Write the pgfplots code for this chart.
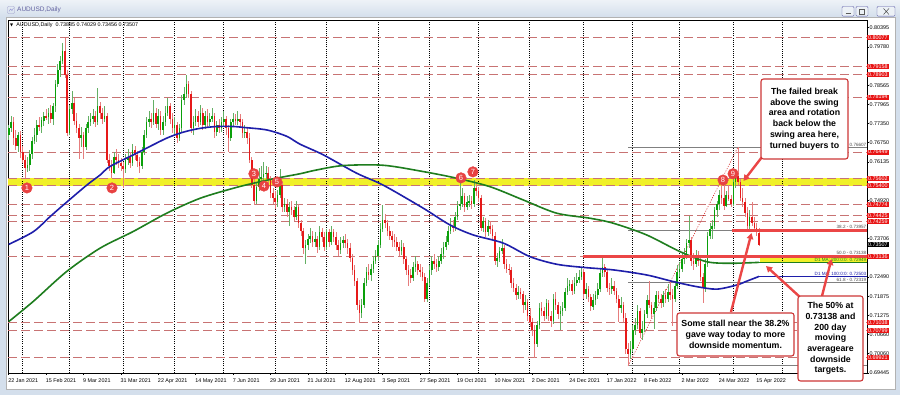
\documentclass[border=0pt]{standalone}
\usepackage{pgfplots}
\pgfplotsset{compat=1.18}
\usepackage{pgfplotstable}
\usepackage{fontspec}
\setmainfont{Liberation Sans}
\newfontfamily\dejavu{DejaVu Sans}
\usetikzlibrary{arrows.meta}
\pgfdeclarelayer{background}
\pgfsetlayers{background,main}
\definecolor{upc}{RGB}{10,160,10}
\definecolor{dnc}{RGB}{230,25,25}
\definecolor{upw}{RGB}{100,175,100}
\definecolor{dnw}{RGB}{230,125,125}
\definecolor{lvl}{RGB}{200,115,115}
\definecolor{band}{RGB}{240,240,40}
\definecolor{maone}{RGB}{30,30,170}
\definecolor{matwo}{RGB}{30,125,30}
\definecolor{lab}{RGB}{232,20,20}
\definecolor{boxc}{RGB}{205,55,55}
\definecolor{arr}{RGB}{235,70,70}
\definecolor{frm}{RGB}{212,223,236}
\definecolor{mk}{RGB}{232,66,66}
\definecolor{fib}{RGB}{128,128,128}

\pgfplotstableread{
i o h l c
0 0.7700 0.7732 0.7682 0.7720
1 0.7720 0.7760 0.7710 0.7740
2 0.7740 0.7755 0.7668 0.7690
3 0.7690 0.7715 0.7653 0.7665
4 0.7665 0.7710 0.7645 0.7700
5 0.7700 0.7712 0.7627 0.7645
6 0.7645 0.7665 0.7610 0.7620
7 0.7620 0.7635 0.7563 0.7595
8 0.7595 0.7630 0.7583 0.7605
9 0.7605 0.7650 0.7585 0.7640
10 0.7640 0.7692 0.7622 0.7680
11 0.7680 0.7720 0.7670 0.7700
12 0.7700 0.7745 0.7678 0.7730
13 0.7730 0.7755 0.7713 0.7725
14 0.7725 0.7755 0.7705 0.7745
15 0.7745 0.7772 0.7727 0.7760
16 0.7760 0.7780 0.7745 0.7755
17 0.7755 0.7785 0.7733 0.7770
18 0.7770 0.7795 0.7738 0.7750
19 0.7750 0.7800 0.7730 0.7790
20 0.7790 0.7872 0.7772 0.7860
21 0.7860 0.7925 0.7850 0.7905
22 0.7905 0.7950 0.7883 0.7935
23 0.7935 0.7990 0.7923 0.7965
24 0.7965 0.80077 0.7880 0.7890
25 0.7890 0.7905 0.7695 0.7705
26 0.7705 0.7795 0.7700 0.7780
27 0.7780 0.7838 0.7765 0.7800
28 0.7800 0.7815 0.7730 0.7745
29 0.7745 0.7770 0.7705 0.7720
30 0.7720 0.7735 0.7622 0.7690
31 0.7690 0.7725 0.7660 0.7700
32 0.7700 0.7710 0.7622 0.7660
33 0.7660 0.7735 0.7650 0.7720
34 0.7720 0.7760 0.7705 0.7740
35 0.7740 0.7770 0.7728 0.7750
36 0.7750 0.7780 0.7735 0.7760
37 0.7760 0.7775 0.7725 0.7740
38 0.7740 0.7849 0.7730 0.7790
39 0.7790 0.7805 0.7750 0.7770
40 0.7770 0.7785 0.7735 0.7750
41 0.7750 0.7790 0.7740 0.7760
42 0.7760 0.7770 0.7610 0.7620
43 0.7620 0.7640 0.7585 0.7600
44 0.7600 0.7620 0.7563 0.7580
45 0.7580 0.7645 0.7575 0.7630
46 0.7630 0.7655 0.7605 0.7620
47 0.7620 0.7640 0.7595 0.7610
48 0.7610 0.7625 0.7585 0.7600
49 0.7600 0.7615 0.7532 0.7590
50 0.7590 0.7640 0.7578 0.7620
51 0.7620 0.7655 0.7605 0.7630
52 0.7630 0.7645 0.7595 0.7610
53 0.7610 0.7670 0.7600 0.7650
54 0.7650 0.7665 0.7620 0.7635
55 0.7635 0.7648 0.7598 0.7615
56 0.7615 0.7630 0.7580 0.7600
57 0.7600 0.7660 0.7590 0.7645
58 0.7645 0.7715 0.7635 0.7700
59 0.7700 0.7755 0.7690 0.7740
60 0.7740 0.7775 0.7725 0.7750
61 0.7750 0.7770 0.7720 0.7740
62 0.7740 0.7810 0.7730 0.7770
63 0.7770 0.7785 0.7720 0.7735
64 0.7735 0.7780 0.7715 0.7760
65 0.7760 0.7775 0.7700 0.7715
66 0.7715 0.7760 0.7700 0.7740
67 0.7740 0.7790 0.7728 0.7770
68 0.7770 0.7815 0.7758 0.7790
69 0.7790 0.7800 0.7735 0.7750
70 0.7750 0.7770 0.7705 0.7720
71 0.7720 0.7755 0.7700 0.7730
72 0.7730 0.7740 0.7675 0.7690
73 0.7690 0.7735 0.7680 0.7720
74 0.7720 0.7825 0.7710 0.7810
75 0.7810 0.7850 0.7795 0.7830
76 0.7830 0.78903 0.7815 0.7860
77 0.7860 0.7870 0.7815 0.7830
78 0.7830 0.7840 0.7705 0.7720
79 0.7720 0.7760 0.7700 0.7740
80 0.7740 0.7780 0.7728 0.7760
81 0.7760 0.7775 0.7725 0.7740
82 0.7740 0.7795 0.7730 0.7770
83 0.7770 0.7785 0.7715 0.7730
84 0.7730 0.7775 0.7718 0.7760
85 0.7760 0.7780 0.7725 0.7740
86 0.7740 0.7770 0.7728 0.7750
87 0.7750 0.7785 0.7740 0.7760
88 0.7760 0.7770 0.7690 0.7710
89 0.7710 0.7745 0.7695 0.7730
90 0.7730 0.7750 0.7705 0.7720
91 0.7720 0.7755 0.7708 0.7740
92 0.7740 0.7775 0.7725 0.7750
93 0.7750 0.7760 0.7700 0.7720
94 0.7720 0.7730 0.7646 0.7690
95 0.7690 0.7750 0.7680 0.7740
96 0.7740 0.7770 0.7725 0.7750
97 0.7750 0.7765 0.7730 0.7745
98 0.7745 0.7775 0.7732 0.7750
99 0.7750 0.7765 0.7720 0.7740
100 0.7740 0.7750 0.7690 0.7705
101 0.7705 0.7730 0.7690 0.7710
102 0.7710 0.7725 0.7670 0.7690
103 0.7690 0.7705 0.7610 0.7620
104 0.7620 0.7630 0.7530 0.7540
105 0.7540 0.7560 0.7477 0.7490
106 0.7490 0.7550 0.7480 0.7535
107 0.7535 0.7595 0.7520 0.7560
108 0.7560 0.7600 0.7545 0.7565
109 0.7565 0.7615 0.7550 0.7575
110 0.7575 0.7600 0.7560 0.7580
111 0.7580 0.7598 0.7545 0.7560
112 0.7560 0.7570 0.7500 0.7515
113 0.7515 0.7530 0.7480 0.7500
114 0.7500 0.7520 0.7465 0.7485
115 0.7485 0.7525 0.7470 0.7510
116 0.7510 0.7590 0.7500 0.7540
117 0.7540 0.7550 0.7455 0.7470
118 0.7470 0.7500 0.7455 0.7480
119 0.7480 0.7495 0.7440 0.7455
120 0.7455 0.7485 0.7410 0.7470
121 0.7470 0.7490 0.7445 0.7460
122 0.7460 0.7475 0.7425 0.7440
123 0.7440 0.7490 0.7430 0.7470
124 0.7470 0.7480 0.7405 0.7420
125 0.7420 0.7430 0.7380 0.7395
126 0.7395 0.7405 0.7320 0.7340
127 0.7340 0.7365 0.7290 0.7350
128 0.7350 0.7385 0.7335 0.7370
129 0.7370 0.7405 0.7355 0.7380
130 0.7380 0.7395 0.7345 0.7360
131 0.7360 0.7390 0.7345 0.7370
132 0.7370 0.7380 0.7325 0.7345
133 0.7345 0.7410 0.7335 0.7390
134 0.7390 0.7405 0.7360 0.7375
135 0.7375 0.7390 0.7330 0.7345
136 0.7345 0.7400 0.7335 0.7390
137 0.7390 0.7400 0.7345 0.7360
138 0.7360 0.7410 0.7350 0.7390
139 0.7390 0.7400 0.7360 0.7375
140 0.7375 0.7390 0.7335 0.7350
141 0.7350 0.7365 0.7315 0.7335
142 0.7335 0.7375 0.7320 0.7355
143 0.7355 0.7380 0.7340 0.7365
144 0.7365 0.7385 0.7340 0.7355
145 0.7355 0.7368 0.7320 0.7340
146 0.7340 0.7355 0.7295 0.7310
147 0.7310 0.7320 0.7255 0.7270
148 0.7270 0.7285 0.7220 0.7235
149 0.7235 0.7245 0.7145 0.7160
150 0.7160 0.7175 0.7104 0.7135
151 0.7135 0.7180 0.7120 0.7160
152 0.7160 0.7245 0.7150 0.7230
153 0.7230 0.7280 0.7220 0.7265
154 0.7265 0.7290 0.7240 0.7255
155 0.7255 0.7290 0.7235 0.7275
156 0.7275 0.7315 0.7260 0.7300
157 0.7300 0.7335 0.7290 0.7315
158 0.7315 0.7365 0.7300 0.7350
159 0.7350 0.7420 0.7340 0.7400
160 0.7400 0.74774 0.7390 0.7430
161 0.7430 0.7450 0.7405 0.7420
162 0.7420 0.7430 0.7380 0.7395
163 0.7395 0.7410 0.7365 0.7380
164 0.7380 0.7395 0.7345 0.7365
165 0.7365 0.7385 0.7345 0.7360
166 0.7360 0.7375 0.7330 0.7345
167 0.7345 0.7360 0.7315 0.7330
168 0.7330 0.7365 0.7318 0.7345
169 0.7345 0.7355 0.7290 0.7305
170 0.7305 0.7315 0.7255 0.7270
171 0.7270 0.7285 0.7220 0.7255
172 0.7255 0.7275 0.7230 0.7245
173 0.7245 0.7295 0.7235 0.7280
174 0.7280 0.7315 0.7265 0.7290
175 0.7290 0.7300 0.7255 0.7270
176 0.7270 0.7290 0.7250 0.7265
177 0.7265 0.7280 0.7235 0.7250
178 0.7250 0.7260 0.7170 0.7180
179 0.7180 0.7245 0.7170 0.7230
180 0.7230 0.7285 0.7220 0.7270
181 0.7270 0.7315 0.7255 0.7300
182 0.7300 0.7320 0.7275 0.7290
183 0.7290 0.7305 0.7265 0.7280
184 0.7280 0.7315 0.7268 0.7300
185 0.7300 0.7340 0.7290 0.7320
186 0.7320 0.7360 0.7305 0.7345
187 0.7345 0.7380 0.7335 0.7360
188 0.7360 0.7410 0.7350 0.7395
189 0.7395 0.7435 0.7385 0.7410
190 0.7410 0.7430 0.7390 0.7405
191 0.7405 0.7455 0.7395 0.7440
192 0.7440 0.7490 0.7430 0.7475
193 0.7475 0.7546 0.7460 0.7480
194 0.7480 0.7530 0.7470 0.7505
195 0.7505 0.7515 0.7455 0.7470
196 0.7470 0.7505 0.7460 0.7485
197 0.7485 0.7510 0.7470 0.7490
198 0.7490 0.7505 0.7465 0.7480
199 0.7480 0.7556 0.7470 0.7530
200 0.7530 0.7545 0.7505 0.7520
201 0.7520 0.7535 0.7485 0.7500
202 0.7500 0.7510 0.7395 0.7405
203 0.7405 0.7440 0.7390 0.7425
204 0.7425 0.7435 0.7375 0.7390
205 0.7390 0.7430 0.7380 0.7410
206 0.7410 0.7425 0.7385 0.7400
207 0.7400 0.7415 0.7365 0.7380
208 0.7380 0.7390 0.7285 0.7300
209 0.7300 0.7325 0.7280 0.7310
210 0.7310 0.7345 0.7295 0.7330
211 0.7330 0.7370 0.7320 0.7340
212 0.7340 0.7350 0.7275 0.7290
213 0.7290 0.7305 0.7260 0.7275
214 0.7275 0.7290 0.7255 0.7270
215 0.7270 0.7280 0.7215 0.7230
216 0.7230 0.7245 0.7200 0.7215
217 0.7215 0.7225 0.7175 0.7190
218 0.7190 0.7220 0.7180 0.7200
219 0.7200 0.7215 0.7180 0.7195
220 0.7195 0.7205 0.7135 0.7160
221 0.7160 0.7190 0.7145 0.7170
222 0.7170 0.7180 0.7110 0.7125
223 0.7125 0.7150 0.7090 0.7105
224 0.7105 0.7120 0.7060 0.7080
225 0.7080 0.7095 0.6992 0.7035
226 0.7035 0.7110 0.7025 0.7095
227 0.7095 0.7165 0.7085 0.7150
228 0.7150 0.7170 0.7125 0.7140
229 0.7140 0.7155 0.7110 0.7125
230 0.7125 0.7180 0.7115 0.7165
231 0.7165 0.7175 0.7110 0.7125
232 0.7125 0.7140 0.7090 0.7110
233 0.7110 0.7195 0.7100 0.7180
234 0.7180 0.7200 0.7145 0.7160
235 0.7160 0.7170 0.7115 0.7130
236 0.7130 0.7155 0.7080 0.7140
237 0.7140 0.7170 0.7125 0.7150
238 0.7150 0.7215 0.7140 0.7200
239 0.7200 0.7245 0.7190 0.7220
240 0.7220 0.7240 0.7205 0.7225
241 0.7225 0.7240 0.7190 0.7205
242 0.7205 0.7250 0.7195 0.7230
243 0.7230 0.7260 0.7220 0.7240
244 0.7240 0.7270 0.7230 0.7250
245 0.7250 0.7277 0.7240 0.7265
246 0.7265 0.7275 0.7180 0.7195
247 0.7195 0.7230 0.7180 0.7210
248 0.7210 0.7220 0.7170 0.7185
249 0.7185 0.7195 0.7140 0.7155
250 0.7155 0.7195 0.7145 0.7175
251 0.7175 0.7205 0.7160 0.7190
252 0.7190 0.7230 0.7180 0.7210
253 0.7210 0.7275 0.7200 0.7260
254 0.7260 0.7314 0.7250 0.7280
255 0.7280 0.7290 0.7250 0.7265
256 0.7265 0.7275 0.7200 0.7215
257 0.7215 0.7230 0.7190 0.7210
258 0.7210 0.7245 0.7195 0.7220
259 0.7220 0.7235 0.7190 0.7205
260 0.7205 0.7215 0.7165 0.7180
261 0.7180 0.7190 0.7105 0.7150
262 0.7150 0.7185 0.7135 0.7160
263 0.7160 0.7170 0.7105 0.7120
264 0.7120 0.7135 0.7005 0.7020
265 0.7020 0.7040 0.6967 0.7005
266 0.7005 0.7045 0.6990 0.7020
267 0.7020 0.7095 0.7010 0.7080
268 0.7080 0.7120 0.7065 0.7095
269 0.7095 0.7160 0.7085 0.7140
270 0.7140 0.7150 0.7055 0.7070
271 0.7070 0.7110 0.7050 0.7085
272 0.7085 0.7145 0.7075 0.7130
273 0.7130 0.7190 0.7120 0.7175
274 0.7175 0.7235 0.7150 0.7160
275 0.7160 0.7170 0.7115 0.7130
276 0.7130 0.7170 0.7085 0.7150
277 0.7150 0.7205 0.7140 0.7190
278 0.7190 0.7205 0.7165 0.7180
279 0.7180 0.7195 0.7150 0.7165
280 0.7165 0.7205 0.7155 0.7190
281 0.7190 0.7210 0.7165 0.7180
282 0.7180 0.7225 0.7170 0.7200
283 0.7200 0.7240 0.7175 0.7190
284 0.7190 0.7210 0.7094 0.7180
285 0.7180 0.7235 0.7170 0.7220
286 0.7220 0.7285 0.7210 0.7265
287 0.7265 0.7295 0.7250 0.7275
288 0.7275 0.7325 0.7265 0.7305
289 0.7305 0.7340 0.7290 0.7315
290 0.7315 0.7370 0.7305 0.7355
291 0.7355 0.74425 0.7340 0.7365
292 0.7365 0.7375 0.7285 0.7300
293 0.7300 0.7325 0.7270 0.7290
294 0.7290 0.7335 0.7280 0.7315
295 0.7315 0.7330 0.7285 0.7300
296 0.7300 0.7310 0.7235 0.7250
297 0.7250 0.7260 0.7165 0.7215
298 0.7215 0.7305 0.7200 0.7290
299 0.7290 0.7390 0.7280 0.7380
300 0.7380 0.7420 0.7370 0.7400
301 0.7400 0.7430 0.7370 0.7410
302 0.7410 0.7470 0.7400 0.7460
303 0.7460 0.7490 0.7440 0.7480
304 0.7480 0.7525 0.7460 0.7510
305 0.7510 0.7540 0.7480 0.7500
306 0.7500 0.7540 0.7460 0.7475
307 0.7475 0.7520 0.7470 0.7510
308 0.7510 0.7540 0.7490 0.7495
309 0.7495 0.7510 0.7470 0.7480
310 0.7480 0.7560 0.7475 0.7550
311 0.7550 0.7590 0.7530 0.7570
312 0.7570 0.76607 0.7540 0.7550
313 0.7550 0.7560 0.7490 0.7500
314 0.7500 0.7530 0.7470 0.7485
315 0.7485 0.7500 0.7440 0.7450
316 0.7450 0.7470 0.7400 0.7410
317 0.7410 0.7460 0.7395 0.7440
318 0.7440 0.7488 0.7410 0.7420
319 0.7420 0.7440 0.7390 0.7405
320 0.7405 0.7420 0.7380 0.7390
321 0.73885 0.74029 0.73456 0.73507
}\candles

\newcommand{\tk}{\fontsize{5.4}{6}\selectfont}
\newcommand{\rl}[2]{\node[fill=lab, text=white, font=\tk, inner xsep=1pt, inner ysep=0.55pt, text height=3.9pt, text depth=0pt, anchor=west] at (axis cs:367.2,#1) {#2};}
\pgfplotsset{chartpos/.style={at={(8,22)}, anchor=south west, width=859pt, height=353pt, scale only axis,
  xmin=-0.3, xmax=367.2, ymin=0.6944, ymax=0.80638}}

\begin{document}
\begin{tikzpicture}[x=1pt,y=1pt]
\begin{axis}[
  chartpos,
  axis line style={black, line width=0.6pt},
  xtick={0,16,...,320},
  xticklabels={22 Jan 2021,15 Feb 2021,9 Mar 2021,31 Mar 2021,22 Apr 2021,14 May 2021,7 Jun 2021,29 Jun 2021,21 Jul 2021,12 Aug 2021,3 Sep 2021,27 Sep 2021,19 Oct 2021,10 Nov 2021,2 Dec 2021,24 Dec 2021,17 Jan 2022,8 Feb 2022,2 Mar 2022,24 Mar 2022,15 Apr 2022},
  xtick pos=bottom, ytick pos=right,
  tick align=outside, major tick length=2pt,
  tick style={black, line width=0.5pt},
  xticklabel style={font=\tk, anchor=north west, inner sep=0pt, xshift=-0.5pt, yshift=-3.5pt},
  ytick={0.80395,0.79780,0.78565,0.77965,0.77350,0.76750,0.76135,0.74920,0.73706,0.72490,0.71875,0.71275,0.70660,0.70060,0.69445},
  yticklabels={0.80395,0.79780,0.78565,0.77965,0.77350,0.76750,0.76135,0.74920,0.73706,0.72490,0.71875,0.71275,0.70660,0.70060,0.69445},
  yticklabel style={font=\tk, anchor=west, inner sep=0pt, xshift=0.5pt},
  clip=true,
]
\coordinate (O) at (rel axis cs:0,0);
% yellow swing band
\fill[band] (axis cs:-0.3,0.75385) rectangle (axis cs:367.2,0.75617);
% target zone
\fill[band] (axis cs:321.6,0.72949) rectangle (axis cs:367.2,0.73136);
% vertical grid (month starts)
\pgfplotsinvokeforeach{6,26,49,71,92,114,136,158,180,201,223,246,267,287,310,331}{
  \addplot[black, line width=1pt, dash pattern=on 1pt off 1.2pt, forget plot] coordinates {(#1,0.6944) (#1,0.80638)};
}
% horizontal levels
\pgfplotsinvokeforeach{0.80077,0.79158,0.78903,0.78194,0.76449,0.75602,0.75400,0.74774,0.74425,0.74259,0.73136,0.71038,0.70799,0.69921}{
  \addplot[lvl, line width=0.8pt, dash pattern=on 9pt off 4pt, forget plot] coordinates {(-0.3,#1) (367.2,#1)};
}
% fibonacci lines
\pgfplotsinvokeforeach{0.76607,0.73957,0.73138,0.72319,0.69670}{
  \addplot[fib, line width=0.5pt, forget plot] coordinates {(265,#1) (367.2,#1)};
}
\addplot[red!80!black, line width=0.5pt, dash pattern=on 1pt off 1.5pt, forget plot] coordinates {(265,0.6967) (312,0.76607)};
% wicks
\addplot[draw=none, mark=none, forget plot,
  restrict expr to domain={\thisrow{c}-\thisrow{o}}{0:1},
  error bars/.cd, y dir=both, y explicit, error mark=none,
  error bar style={draw=upw, line width=0.6pt, solid}]
  table[x=i, y expr={(\thisrow{h}+\thisrow{l})/2}, y error expr={(\thisrow{h}-\thisrow{l})/2}] {\candles};
\addplot[draw=none, mark=none, forget plot,
  restrict expr to domain={\thisrow{o}-\thisrow{c}}{0.00001:1},
  error bars/.cd, y dir=both, y explicit, error mark=none,
  error bar style={draw=dnw, line width=0.6pt, solid}]
  table[x=i, y expr={(\thisrow{h}+\thisrow{l})/2}, y error expr={(\thisrow{h}-\thisrow{l})/2}] {\candles};
% bodies
\addplot[draw=none, mark=none, forget plot,
  restrict expr to domain={\thisrow{c}-\thisrow{o}}{0:1},
  error bars/.cd, y dir=both, y explicit, error mark=none,
  error bar style={draw=upc, line width=1.6pt, solid}]
  table[x=i, y expr={(\thisrow{o}+\thisrow{c})/2}, y error expr={max(abs(\thisrow{c}-\thisrow{o})/2,0.00012)}] {\candles};
\addplot[draw=none, mark=none, forget plot,
  restrict expr to domain={\thisrow{o}-\thisrow{c}}{0.00001:1},
  error bars/.cd, y dir=both, y explicit, error mark=none,
  error bar style={draw=dnc, line width=1.6pt, solid}]
  table[x=i, y expr={(\thisrow{o}+\thisrow{c})/2}, y error expr={max(abs(\thisrow{c}-\thisrow{o})/2,0.00012)}] {\candles};
% moving averages
\addplot[maone, line width=1.6pt, smooth, forget plot] coordinates {
(0,0.7352) (10.5,0.7392) (17.7,0.7440) (23.4,0.7477) (33.4,0.7540) (39.1,0.7572) (43.3,0.7599) (53.3,0.7636) (57.6,0.7652) (67.6,0.7689) (74.7,0.7708) (81.8,0.7720) (89,0.7726) (96.1,0.7726) (100.4,0.7723) (110.4,0.7715) (118.9,0.7695) (124.6,0.7670) (134.6,0.7636) (148.8,0.7578) (160.2,0.7540) (177.3,0.7467) (188.7,0.7414) (198.7,0.7382) (211.6,0.7356) (223,0.7313) (234.4,0.7289) (245.8,0.7279) (258.7,0.7271) (272.9,0.7255) (284.3,0.7234) (294.3,0.7218) (302.9,0.7210) (311.4,0.7223) (316,0.7236) (321,0.72503)};
\addplot[maone, line width=1.6pt, forget plot] coordinates {(321,0.72503) (367.2,0.72503)};
\addplot[matwo, line width=1.6pt, smooth, forget plot] coordinates {
(0,0.7107) (10.5,0.7171) (24.8,0.7266) (39.1,0.7340) (53.3,0.7393) (67.6,0.7451) (81.8,0.7498) (96.1,0.7530) (104.7,0.7546) (114.6,0.7562) (124.6,0.7576) (131.7,0.7588) (143.1,0.7602) (160.2,0.7603) (177.3,0.7583) (191.6,0.7562) (205.9,0.7535) (220.1,0.7493) (234.4,0.7451) (248.6,0.7435) (258.7,0.7419) (272.9,0.7382) (287.2,0.7329) (298.6,0.7297) (308.6,0.7292) (321,0.72949)};
\addplot[matwo, line width=1.6pt, forget plot] coordinates {(321,0.72949) (367.2,0.72949)};
% thick red lines
\addplot[arr, line width=2.6pt, forget plot] coordinates {(245.7,0.73136) (367.2,0.73136)};
\addplot[arr, line width=2.6pt, forget plot] coordinates {(309.4,0.73957) (367.2,0.73957)};
% numbered markers
\addplot[only marks, mark=*, mark size=5.3pt, mark options={fill=mk, draw=mk}, forget plot,
  nodes near coords, point meta=explicit symbolic,
  every node near coord/.append style={anchor=center, text=white, font=\fontsize{7.5}{8}\selectfont, inner sep=0pt}]
  coordinates {(7.8,0.7531)[1] (44.2,0.7531)[2] (104.9,0.7576)[3] (109.2,0.7537)[4] (114.8,0.7550)[5] (193.5,0.7563)[6] (198.6,0.7582)[7] (305.6,0.7556)[8] (309.9,0.7576)[9]};
% right-side texts
\node[anchor=south east, inner sep=0.5pt, text=black!70, font=\fontsize{4.6}{5}\selectfont] at (axis cs:367.2,0.76607) {0.76607};
\node[anchor=south east, inner sep=0.5pt, text=black!70, font=\fontsize{4.6}{5}\selectfont] at (axis cs:367.2,0.73990) {38.2 - 0.73957};
\node[anchor=south east, inner sep=0.5pt, text=black!70, font=\fontsize{4.6}{5}\selectfont] at (axis cs:367.2,0.73170) {50.0 - 0.73138};
\node[anchor=south east, inner sep=0.5pt, text=black!70, font=\fontsize{4.6}{5}\selectfont] at (axis cs:367.2,0.72319) {61.8 - 0.72319};
\node[anchor=south east, inner sep=0.5pt, text=matwo, font=\fontsize{4.6}{5}\selectfont] at (axis cs:367.2,0.72960) {D1 MA: 200:0:0: 0.72949};
\node[anchor=south east, inner sep=0.5pt, text=maone, font=\fontsize{4.6}{5}\selectfont] at (axis cs:367.2,0.72515) {D1 MA: 100:0:0: 0.72503};
\end{axis}

% red price labels on the right axis
\begin{axis}[chartpos, hide axis, clip=false]
\rl{0.80077}{0.80077}
\rl{0.79158}{0.79158}
\rl{0.78903}{0.78903}
\rl{0.78194}{0.78194}
\rl{0.76449}{0.76449}
\rl{0.75602}{0.75602}
\rl{0.75400}{0.75400}
\rl{0.74774}{0.74774}
\rl{0.74425}{0.74425}
\rl{0.74259}{0.74259}
\rl{0.73136}{0.73136}
\rl{0.71038}{0.71038}
\rl{0.70799}{0.70799}
\rl{0.69921}{0.69921}
\node[fill=black, text=white, font=\tk, inner xsep=1pt, inner ysep=0.55pt, text height=3.9pt, text depth=0pt, anchor=west] at (axis cs:367.2,0.73507) {0.73507};
\end{axis}

\begin{scope}[shift={(O)}, shift={(-8,-22)}]
\begin{pgfonlayer}{background}
\fill[frm] (0,0) rectangle (900,395);
\shade[top color=white!60!frm, bottom color=frm] (0,378) rectangle (900,395);
\draw[blue!30!gray!60, rounded corners=0.8pt] (7.5,381.5) rectangle (14.5,388.5);
\draw[blue!40!gray!60] (9,383.5) -- (10.5,386) -- (12,384.5) -- (13.5,387);
\node[anchor=west, text=gray!75!blue, font=\fontsize{6.5}{7}\selectfont, inner sep=0pt] at (17,385) {AUDUSD,Daily};
\foreach \a/\b in {842/854,856/868,877/895}{
  \draw[gray!70!blue, fill=white!55!frm, rounded corners=1pt] (\a,378.8) rectangle (\b,388.5);}
\draw[gray!70!black, line width=0.6pt] (845.5,381.5) -- (850.5,381.5);
\draw[gray!70!black, line width=0.5pt] (859.5,381) rectangle (864.5,386);
\draw[gray!60!black, line width=0.5pt] (883.5,380.5) -- (889,386.5) (883.5,386.5) -- (889,380.5);
\fill[white] (6,6) rectangle (895,378);
\draw[gray!60] (6,6) rectangle (895,378);
\end{pgfonlayer}
% chart header
\node[anchor=west, inner sep=0pt, font=\tk] at (10,370) {{\dejavu\fontsize{4}{5}\selectfont ▼}\ \ AUDUSD,Daily\ \ 0.73885 0.74029 0.73456 0.73507};
% callout boxes
\tikzset{callout/.style={draw=boxc, line width=1.1pt, fill=white, rounded corners=2.5pt, align=center, inner sep=0pt, font=\bfseries\fontsize{8.8}{10.7}\selectfont}}
\draw[arr, line width=2.4pt, -{Triangle[length=6pt,width=6.5pt]}] (762,238) -- (743.5,214);
\draw[arr, line width=2.4pt, -{Triangle[length=6pt,width=6.5pt]}] (731,83) -- (751.5,162);
\draw[arr, line width=2.4pt, -{Triangle[length=6pt,width=6.5pt]}] (822,99) -- (831.5,136);
\draw[arr, line width=2.4pt, -{Triangle[length=6pt,width=6.5pt]}] (801,97) -- (766,129);
\node[callout, minimum width=87pt, minimum height=80pt] at (804.5,276) {The failed break\\above the swing\\area and rotation\\back below the\\swing area here,\\turned buyers to};
\node[callout, minimum width=117pt, minimum height=43pt] at (735.5,60.5) {Some stall near the 38.2\%\\gave way today to more\\downside momentum.};
\node[callout, minimum width=65pt, minimum height=85pt] at (830.5,56.5) {The 50\% at\\0.73138 and\\200 day\\moving\\averageare\\downside\\targets.};
\pgfresetboundingbox
\useasboundingbox (0,0) rectangle (900,395);
\end{scope}
\end{tikzpicture}
\end{document}
